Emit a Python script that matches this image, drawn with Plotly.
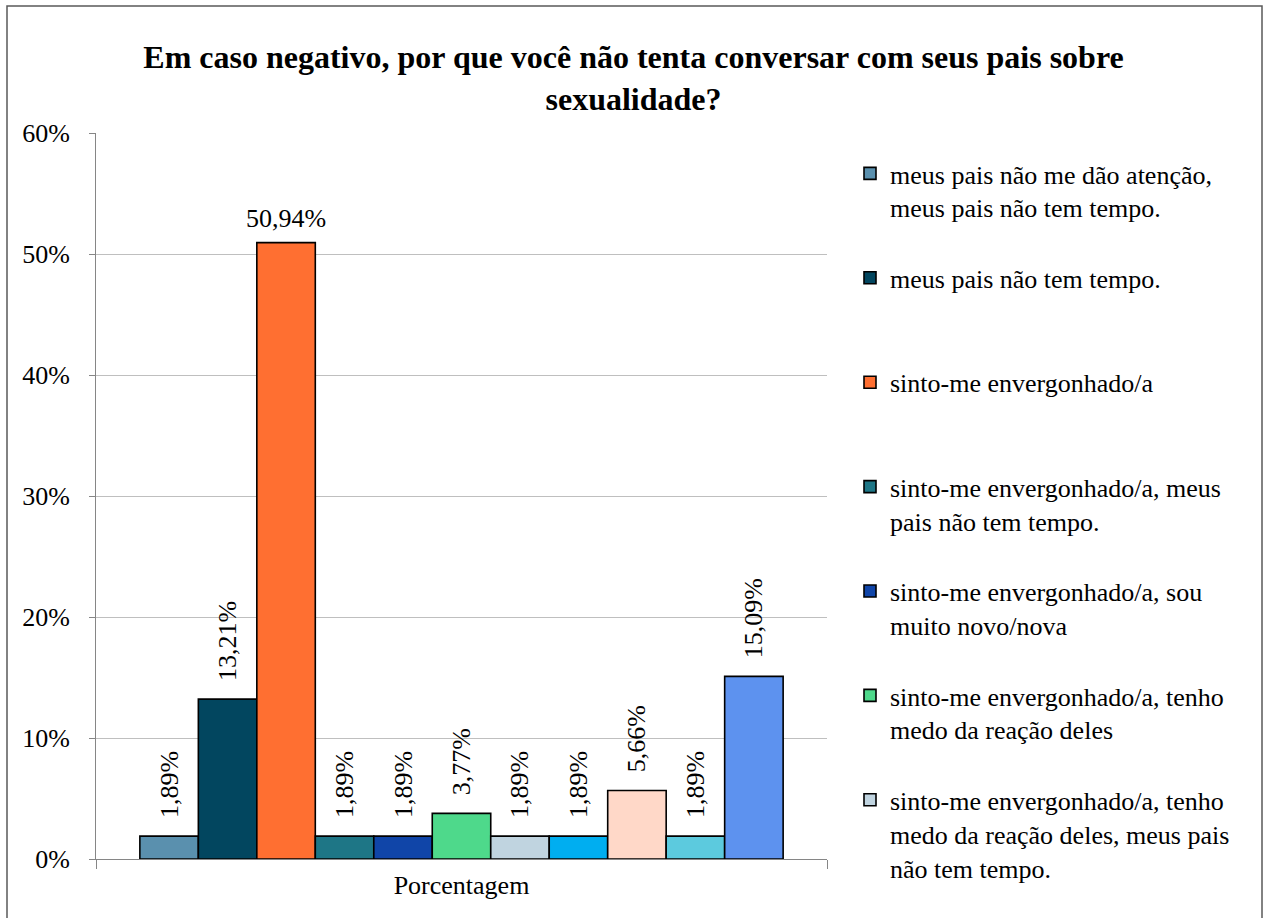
import plotly.graph_objects as go

# Survey answers (share of respondents) for a single category
category = ["Porcentagem"]
answers = [
    "meus pais não me dão atenção,<br>meus pais não tem tempo.",
    "meus pais não tem tempo.",
    "sinto-me envergonhado/a",
    "sinto-me envergonhado/a, meus<br>pais não tem tempo.",
    "sinto-me envergonhado/a, sou<br>muito novo/nova",
    "sinto-me envergonhado/a, tenho<br>medo da reação deles",
    "sinto-me envergonhado/a, tenho<br>medo da reação deles, meus pais<br>não tem tempo.",
    "resposta 8",
    "resposta 9",
    "resposta 10",
    "resposta 11",
]
shares = [0.0189, 0.1321, 0.5094, 0.0189, 0.0189, 0.0377, 0.0189, 0.0189, 0.0566, 0.0189, 0.1509]
colors = ["#5A90AE", "#02465F", "#FF6F31", "#1E7686", "#1045A8", "#4ED98B",
          "#C0D4E0", "#00AEF0", "#FFD8C8", "#5CCADE", "#5D92EF"]
legend_shown = 7
tick_values = [0, 0.1, 0.2, 0.3, 0.4, 0.5, 0.6]

FONT = "Times New Roman, Liberation Serif, serif"
BARGAP = 0.12


def pad_lines(label, n=3):
    # every legend entry takes the same number of lines so entries are evenly spaced
    count = label.count("<br>") + 1
    return label + "<br>\u00a0" * (n - count)


fig = go.Figure()
annotations = []
slot = (1 - BARGAP) / len(shares)   # width of one bar in category units
for i, (name, val, col) in enumerate(zip(answers, shares, colors)):
    horizontal = val > 0.4
    fig.add_trace(go.Bar(
        x=category,
        y=[val],
        name=pad_lines(name) if i < legend_shown else name,
        showlegend=i < legend_shown,
        marker=dict(color=col, line=dict(color="#000000", width=1.6)),
        texttemplate="" if horizontal else "\u2002\u200a%{y:.2%}",
        textposition="outside",
        textangle=-90,
        constraintext="none",
        cliponaxis=False,
        textfont=dict(family=FONT, size=26, color="#000000"),
    ))
    if horizontal:
        # the tallest bar carries an upright label sitting a little above it
        annotations.append(dict(
            x=-(1 - BARGAP) / 2 + (i + 0.5) * slot, xref="x",
            y=val, yref="y",
            text=f"{val * 100:.2f}%".replace(".", ","),
            showarrow=False, yanchor="bottom", xanchor="center", yshift=8,
            font=dict(family=FONT, size=26, color="#000000"),
        ))

W, H = 1267, 918
L, R, T, B = 96, 1267 - 827, 133, 918 - 859
pw, ph = W - L - R, H - T - B


def px_x(x):
    return (x - L) / pw


def px_y(y):
    return (H - B - y) / ph


fig.update_layout(
    width=W, height=H,
    margin=dict(l=L, r=R, t=T, b=B, autoexpand=False),
    paper_bgcolor="#FFFFFF",
    plot_bgcolor="#FFFFFF",
    separators=",.",
    barmode="group",
    bargap=BARGAP,
    bargroupgap=0,
    font=dict(family=FONT, size=26, color="#000000"),
    title=dict(
        text="Em caso negativo, por que você não tenta conversar com seus pais sobre<br>sexualidade?",
        font=dict(family=FONT, size=32, color="#000000", weight="bold"),
        x=0.5, xanchor="center", xref="container",
        y=1 - 68 / H, yanchor="middle", yref="container",
    ),
    legend=dict(
        x=px_x(850), y=px_y(150), xanchor="left", yanchor="top",
        font=dict(family=FONT, size=26, color="#000000"),
        valign="top",
        traceorder="normal",
        bgcolor="rgba(0,0,0,0)",
        maxheight=900,
    ),
    xaxis=dict(
        type="category",
        range=[-0.5, 0.5],
        showline=True, linecolor="#868686", linewidth=1,
        ticks="outside", ticklen=9, tickcolor="#868686", tickson="boundaries",
        showgrid=False,
        ticklabelstandoff=3,
        tickfont=dict(family=FONT, size=26, color="#000000"),
    ),
    yaxis=dict(
        range=[0, 0.6],
        tickvals=tick_values,
        tickformat=".0%",
        showline=True, linecolor="#868686", linewidth=1,
        ticks="outside", ticklen=6, tickcolor="#868686",
        showgrid=True, gridcolor="#BFBFBF", gridwidth=1,
        zeroline=False,
        ticklabelstandoff=14,
        tickfont=dict(family=FONT, size=26, color="#000000"),
    ),
    annotations=annotations,
    shapes=[dict(
        type="rect", xref="paper", yref="paper",
        x0=px_x(7), x1=px_x(1262), y0=px_y(930), y1=px_y(6),
        line=dict(color="#595959", width=1.5),
        fillcolor="rgba(0,0,0,0)", layer="below",
    )],
)

fig.write_html("out.html")
